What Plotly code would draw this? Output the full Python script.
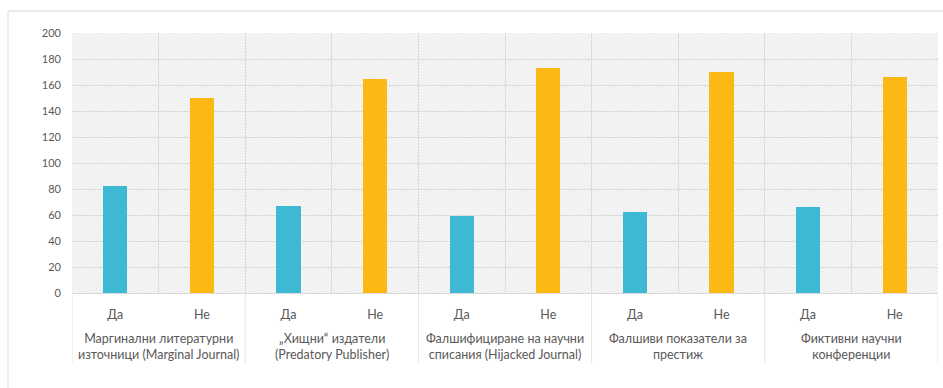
import base64
import plotly.graph_objects as go

# Survey answers per category of questionable publishing practice
groups = [
    "Маргинални литературни<br>източници (Marginal Journal)",
    "„Хищни“ издатели<br>(Predatory Publisher)",
    "Фалшифициране на научни<br>списания (Hijacked Journal)",
    "Фалшиви показатели за<br>престиж",
    "Фиктивни научни<br>конференции",
]
answers = ["Да", "Не"]
yes_counts = [82, 67, 59, 62, 66]
no_counts = [150, 165, 173, 170, 166]
y_ticks = list(range(0, 201, 20))

colour_yes = "#3EB9D4"
colour_no = "#FCB813"
text_colour = "#595959"
grid_colour = "#dcdcdc"
font_family = "Lato, 'Open Sans', sans-serif"

# One category slot per (group, answer) pair
keys, labels, values, colours = [], [], [], []
for gi, (yv, nv) in enumerate(zip(yes_counts, no_counts)):
    for a, v, c in zip(answers, (yv, nv), (colour_yes, colour_no)):
        keys.append(f"{gi}-{a}")
        labels.append(a)
        values.append(v)
        colours.append(c)

fig = go.Figure(
    go.Bar(
        x=keys,
        y=values,
        marker=dict(color=colours, line=dict(width=0)),
        width=0.28,
        hoverinfo="y",
    )
)

# Diagonal hatch fill for the plotting area
W, H = 866, 260
svg = (
    f'<svg xmlns="http://www.w3.org/2000/svg" width="{W}" height="{H}">'
    '<defs><pattern id="h" width="3" height="3" patternUnits="userSpaceOnUse">'
    '<rect width="3" height="3" fill="#f8f8f8"/>'
    '<path d="M-1,2 l2,2 M0,0 l3,3 M2,-1 l2,2" stroke="#e4e4e4" stroke-width="0.9"/>'
    '</pattern></defs>'
    f'<rect width="{W}" height="{H}" fill="url(#h)"/></svg>'
)
hatch = "data:image/svg+xml;base64," + base64.b64encode(svg.encode()).decode()

n_per_group = len(answers)

# Group captions centred under each pair of bars
annotations = [
    dict(
        text=g, xref="x", yref="paper",
        x=gi * n_per_group + (n_per_group - 1) / 2, y=-0.206,
        xanchor="center", yanchor="middle", showarrow=False,
        font=dict(size=12.5, color=text_colour, family=font_family),
    )
    for gi, g in enumerate(groups)
]

# Group dividers running from the axis down through the captions
shapes = [
    dict(
        type="line", xref="x", yref="paper",
        x0=gi * n_per_group - 0.5, x1=gi * n_per_group - 0.5,
        y0=0, y1=-0.27,
        line=dict(color="#e3e3e3", width=1),
    )
    for gi in range(len(groups) + 1)
]
# Outer chart frame
shapes.append(
    dict(
        type="rect", xref="paper", yref="paper",
        x0=-0.0739, x1=1.02, y0=-0.40, y1=1.0846,
        line=dict(color="#d9d9d9", width=1), fillcolor="rgba(0,0,0,0)",
        layer="below",
    )
)

fig.update_layout(
    width=943,
    height=388,
    margin=dict(l=72, r=5, t=33, b=95),
    paper_bgcolor="white",
    plot_bgcolor="white",
    showlegend=False,
    bargap=0,
    font=dict(family=font_family, size=12, color=text_colour),
    images=[
        dict(
            source=hatch, xref="paper", yref="paper", x=0, y=1,
            sizex=1, sizey=1, sizing="stretch", layer="below",
            xanchor="left", yanchor="top",
        )
    ],
    annotations=annotations,
    shapes=shapes,
)

fig.update_xaxes(
    type="category",
    tickmode="array",
    tickvals=keys,
    ticktext=labels,
    tickson="boundaries",
    showgrid=True,
    gridcolor=grid_colour,
    gridwidth=1,
    showline=True,
    linecolor="#d9d9d9",
    ticks="",
    ticklabelstandoff=10,
    tickfont=dict(size=12.5, color=text_colour),
    range=[-0.5, len(keys) - 0.5],
)
fig.update_yaxes(
    range=[0, 200],
    tickvals=y_ticks,
    ticktext=[str(t) for t in y_ticks],
    showgrid=True,
    gridcolor=grid_colour,
    gridwidth=1,
    zeroline=False,
    showline=False,
    ticks="",
    ticklabelstandoff=10,
    tickfont=dict(size=11, color=text_colour),
)

fig.write_html("out.html")
